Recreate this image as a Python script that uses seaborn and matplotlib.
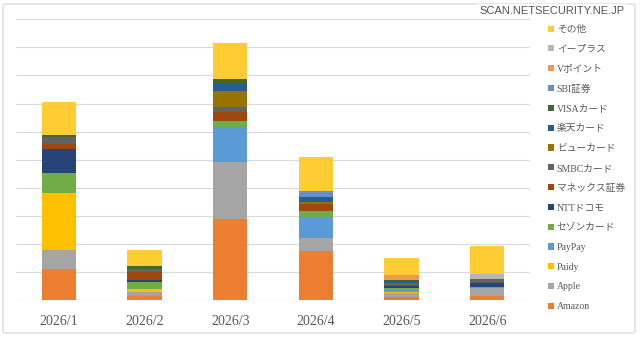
import matplotlib
matplotlib.use("Agg")
import matplotlib.pyplot as plt
import matplotlib.patches as mpatches
import seaborn as sns
import pandas as pd

months = ["2026/1", "2026/2", "2026/3", "2026/4", "2026/5", "2026/6"]

# stacking order bottom -> top
series = ["Amazon", "Apple", "Paidy", "PayPay", "セゾンカード", "NTTドコモ", "マネックス証券",
          "SMBCカード", "ビューカード", "楽天カード", "VISAカード", "SBI証券", "Vポイント",
          "イープラス", "その他"]

amazon   = [11.2, 1.4, 28.7, 17.5, 1.2, 1.4]
apple    = [6.5, 1.4, 20.6, 4.5, 1.4, 2.7]
paidy    = [20.3, 1.0, 0.0, 0.0, 0.35, 0.0]
paypay   = [0.0, 0.0, 12.2, 7.5, 0.6, 0.0]
saison   = [7.1, 2.7, 2.1, 2.3, 0.8, 0.6]
docomo   = [8.6, 0.6, 0.0, 0.0, 0.6, 1.2]
monex    = [2.0, 2.9, 3.2, 2.4, 0.3, 0.0]
smbc     = [2.4, 1.2, 1.8, 0.0, 0.8, 1.5]
view     = [0.0, 0.0, 5.9, 0.6, 0.0, 0.0]
rakuten  = [0.0, 0.0, 2.4, 2.0, 0.5, 0.0]
visa     = [0.7, 0.8, 1.8, 0.0, 0.7, 0.0]
sbi      = [0.0, 0.0, 0.0, 2.1, 0.0, 0.0]
vpoint   = [0.0, 0.0, 0.0, 0.0, 1.5, 0.0]
eplus    = [0.0, 0.0, 0.0, 0.0, 0.0, 1.7]
other    = [11.7, 5.9, 12.7, 11.9, 6.3, 10.2]

values = [amazon, apple, paidy, paypay, saison, docomo, monex, smbc, view, rakuten,
          visa, sbi, vpoint, eplus, other]

colors = ["#ED7D31", "#A5A5A5", "#FFC000", "#5B9BD5", "#70AD47", "#264478", "#9E480E",
          "#636363", "#997300", "#255E91", "#43682B", "#698ED0", "#F1975A", "#B7B7B7",
          "#FFCD33"]
palette = dict(zip(series, colors))

rows = []
for s, vals in zip(series, values):
    for i, v in enumerate(vals):
        rows.append({"pos": i, "series": s, "value": v})
df = pd.DataFrame(rows)

sns.set_theme(style="white")
plt.rcParams["font.family"] = ["Liberation Serif", "Noto Sans CJK JP", "DejaVu Sans"]

fig = plt.figure(figsize=(6.4, 3.37), dpi=100)
ax = fig.add_axes([16 / 640, 37 / 337, (530 - 16) / 640, (300 - 19.3) / 337])

for y in range(10, 101, 10):
    ax.axhline(y, color="#D9D9D9", lw=0.8, zorder=0)
ax.axhline(0, color="#D9D9D9", lw=0.9, zorder=0)

# first hue level ends up on top in seaborn stacking
sns.histplot(data=df, x="pos", weights="value", hue="series",
             hue_order=series[::-1], palette=palette, multiple="stack",
             discrete=True, shrink=0.4, alpha=1, linewidth=0, edgecolor="none",
             legend=False, ax=ax, zorder=2)

ax.set_xlim(-0.5, 5.5)
ax.set_ylim(0, 100)
ax.set_xticks(range(len(months)))
ax.set_xticklabels(months, fontsize=10, color="#595959")
ax.tick_params(axis="x", length=0, pad=11)
ax.set_yticks([])
ax.set_xlabel("")
ax.set_ylabel("")
for sp in ax.spines.values():
    sp.set_visible(False)

handles = [mpatches.Patch(facecolor=palette[s], edgecolor="none", label=s) for s in series[::-1]]
leg = fig.legend(handles=handles, loc="upper left", bbox_to_anchor=(548 / 640, 1 - 25 / 337),
                 frameon=False, fontsize=7, labelspacing=1.10, handlelength=0.6,
                 handleheight=0.6, handletextpad=0.3, borderaxespad=0, borderpad=0)
for t in leg.get_texts():
    t.set_color("#595959")

# chart border
fig.patches.append(mpatches.FancyBboxPatch((3 / 640, 4 / 337), 632 / 640, 329 / 337,
                                           boxstyle="round,pad=0,rounding_size=0.005",
                                           transform=fig.transFigure, fill=False,
                                           edgecolor="#D9D9D9", lw=0.9))

fig.text(625 / 640, 1 - 11 / 337, "SCAN.NETSECURITY.NE.JP", ha="right", va="center",
         fontsize=8, family=["Liberation Sans"], color="#555555",
         bbox=dict(facecolor="white", edgecolor="none", pad=1.5))

fig.savefig("out.png", dpi=100, facecolor="white")
